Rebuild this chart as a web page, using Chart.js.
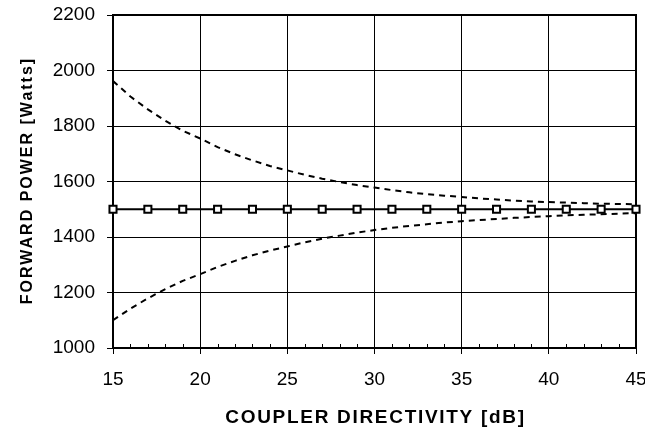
<!DOCTYPE html>
<html>
<head>
<meta charset="utf-8">
<script src="https://cdn.jsdelivr.net/npm/chart.js@4.4.1/dist/chart.umd.min.js"></script>
<style>
  html, body { margin: 0; padding: 0; background: #fff; }
  #wrap { position: relative; width: 645px; height: 428px; }
</style>
</head>
<body>
<div id="wrap"><canvas id="chart"></canvas></div>
<script>
// values
const directivity = [15, 16, 17, 18, 19, 20, 21, 22, 23, 24, 25, 26, 27, 28, 29, 30,
                     31, 32, 33, 34, 35, 36, 37, 38, 39, 40, 41, 42, 43, 44, 45];
const upperPower = [1962, 1906, 1860, 1819, 1783, 1755, 1724, 1698, 1676, 1656, 1640, 1624, 1610, 1598, 1587, 1578,
                    1569, 1561, 1554, 1549, 1544, 1539, 1535, 1531, 1528, 1526, 1524, 1522, 1520, 1519, 1518];
const lowerPower = [1100, 1142, 1179, 1212, 1242, 1266, 1292, 1314, 1334, 1351, 1366, 1381, 1394, 1405, 1416, 1425,
                    1433, 1440, 1446, 1452, 1457, 1461, 1465, 1469, 1472, 1475, 1478, 1480, 1482, 1484, 1486];
const markerDirectivity = [15, 17, 19, 21, 23, 25, 27, 29, 31, 33, 35, 37, 39, 41, 43, 45];
const nominalPower = [1500, 1500, 1500, 1500, 1500, 1500, 1500, 1500, 1500, 1500, 1500, 1500, 1500, 1500, 1500, 1500];

const xTitle = 'COUPLER DIRECTIVITY [dB]';
const yTitle = 'FORWARD POWER [Watts]';
const FONT = "'Liberation Sans', Arial, sans-serif";

const toPoints = (xs, ys) => xs.map((x, i) => ({ x: x, y: ys[i] }));

// frame, inside minor ticks and spaced axis titles
const decor = {
    id: 'decor',
    beforeDatasetsDraw(chart) {
        const { ctx, chartArea: a, scales } = chart;
        const xs = scales.x;
        ctx.save();
        ctx.strokeStyle = '#000';
        ctx.lineWidth = 1;
        for (let v = xs.min + 1; v < xs.max; v++) {
            if (v % 5 === 0) continue;
            const px = Math.round(xs.getPixelForValue(v)) + 0.5;
            ctx.beginPath();
            ctx.moveTo(px, a.bottom);
            ctx.lineTo(px, a.bottom - 4);
            ctx.stroke();
        }
        ctx.lineWidth = 2;
        ctx.strokeRect(a.left, a.top, a.right - a.left, a.bottom - a.top);
        ctx.restore();
    },
    afterDraw(chart) {
        const { ctx, chartArea: a } = chart;
        ctx.save();
        ctx.fillStyle = '#000';
        ctx.textAlign = 'center';
        ctx.textBaseline = 'alphabetic';
        ctx.font = 'bold 19px ' + FONT;
        ctx.letterSpacing = '1.7px';
        ctx.fillText(xTitle, (a.left + a.right) / 2 + 1, 423);
        ctx.font = 'bold 16px ' + FONT;
        ctx.letterSpacing = '2px';
        ctx.translate(32, (a.top + a.bottom) / 2);
        ctx.rotate(-Math.PI / 2);
        ctx.fillText(yTitle, 1, 0);
        ctx.restore();
    }
};

const ctx = document.getElementById('chart').getContext('2d');
new Chart(ctx, {
    type: 'line',
    data: {
        datasets: [
            {
                label: 'Nominal',
                data: toPoints(markerDirectivity, nominalPower),
                borderColor: '#000',
                borderWidth: 2,
                pointStyle: 'rect',
                pointRadius: 5,
                pointBorderWidth: 2,
                pointBackgroundColor: '#fff',
                pointBorderColor: '#000',
                clip: 10,
                order: 0
            },
            {
                label: 'Upper',
                data: toPoints(directivity, upperPower),
                borderColor: '#000',
                borderWidth: 2,
                borderDash: [6, 5],
                pointRadius: 0,
                order: 1
            },
            {
                label: 'Lower',
                data: toPoints(directivity, lowerPower),
                borderColor: '#000',
                borderWidth: 2,
                borderDash: [6, 5],
                pointRadius: 0,
                order: 1
            }
        ]
    },
    options: {
        responsive: true,
        maintainAspectRatio: false,
        animation: false,
        layout: { padding: { top: 15, right: 9, left: 0, bottom: 0 } },
        plugins: {
            legend: { display: false },
            tooltip: { enabled: false }
        },
        scales: {
            x: {
                type: 'linear',
                min: 15,
                max: 45,
                afterFit: (s) => { s.height = 80; s.paddingLeft = 0; s.paddingRight = 0; },
                ticks: { stepSize: 5, color: '#000', padding: 14, font: { family: FONT, size: 19 } },
                grid: { color: '#000', lineWidth: 1, tickLength: 6 },
                border: { color: '#000', width: 2 }
            },
            y: {
                min: 1000,
                max: 2200,
                afterFit: (s) => { s.width = 113; s.paddingTop = 0; s.paddingBottom = 0; },
                ticks: {
                    stepSize: 200, color: '#000', padding: 12, font: { family: FONT, size: 19 },
                    callback: (v) => String(v)
                },
                grid: { color: '#000', lineWidth: 1, tickLength: 6 },
                border: { color: '#000', width: 2 }
            }
        }
    },
    plugins: [decor]
});
</script>
</body>
</html>
